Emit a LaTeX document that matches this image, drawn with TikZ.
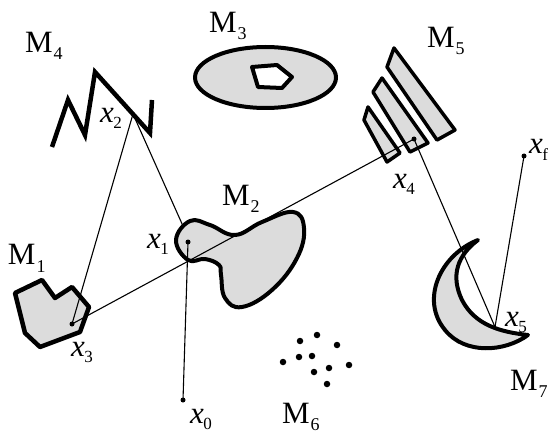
\documentclass[tikz,border=0pt]{standalone}
\usepackage{fontspec}
\setmainfont{Liberation Serif}
\definecolor{setgrey}{HTML}{DCDCDC}
\newcommand\Mlab[1]{\fontsize{31}{31}\selectfont M\kern1pt\raisebox{-7pt}{\fontsize{18}{18}\selectfont #1}}
\newcommand\Xlab[1]{\fontsize{31}{31}\selectfont\textit{x}\kern-0.5pt\raisebox{-6pt}{\fontsize{17}{17}\selectfont #1}}
\tikzset{
  setshape/.style={draw=black, line width=4pt, fill=setgrey, line join=round},
  zig/.style={draw=black, line width=4.5pt, line join=miter},
  conn/.style={draw=black, line width=1.1pt},
  pt/.style={circle, fill=black, inner sep=0pt, minimum size=5pt},
  cloud/.style={circle, fill=black, inner sep=0pt, minimum size=6.5pt},
  lab/.style={anchor=base west, inner sep=0pt, outer sep=0pt}
}
\begin{document}
\begin{tikzpicture}[x=1pt,y=-1pt]
\useasboundingbox (0,0) rectangle (552,433);
% ---- sets
% M3 ellipse with pentagon hole
\draw[setshape] (265.5,77.5) ellipse [x radius=70.5, y radius=30.5];
\draw[setshape, fill=white] (252,67) -- (277,65) -- (292,77) -- (282,88) -- (258,87) -- cycle;
% M4 zigzag
\draw[zig] (52,147) -- (68,100) -- (85,135) -- (95,72) -- (150,133) -- (152,100);
% M5 strips
\draw[setshape, line width=3.5pt] (394,48) -- (455,130) -- (437,140) -- (387,67) -- cycle;
\draw[setshape, line width=3.5pt] (382,78) -- (428,143) -- (410,152) -- (373,92) -- cycle;
\draw[setshape, line width=3.5pt] (368,107) -- (400,153) -- (387,162) -- (364,120) -- cycle;
% M1 polygon
\draw[setshape, line width=4.5pt] (15,293) -- (42,280) -- (55,298) -- (72,287) -- (89,307) -- (80,332) -- (40,347) -- (25,333) -- cycle;
% M2 blob
\draw[setshape] plot[smooth cycle, tension=0.7] coordinates {(176,240) (190,221) (210,225) (235,235) (262,222) (293,212) (304,228) (297,258) (272,290) (242,307) (225,298) (221,275) (219,265) (205,259) (188,260)};
% M7 crescent
\draw[setshape] (478,240) .. controls (440,255) and (420,300) .. (445,330)
  .. controls (465,355) and (505,352) .. (528,335)
  .. controls (500,332) and (475,325) .. (462,300)
  .. controls (450,275) and (458,255) .. (478,240) -- cycle;
% M6 cloud of points
\foreach \p/\q in {300/341,317/335,337/345,283/362,299/357,312/356,329/368,314/372,327/384,349/365}
  \node[cloud] at (\p,\q) {};
% ---- trajectory points
\node[pt] (x0) at (183,400) {};
\node[pt] (x1) at (188,242) {};
\coordinate (b1) at (183,226);
\coordinate (x2) at (133,114);
\node[pt] (x3) at (72,324) {};
\node[pt] (x4) at (414,139) {};
\coordinate (x5) at (495,327);
\node[pt] (xf) at (524,156) {};
% ---- connectors
\draw[conn] (x0.center) -- (x1.center);
\draw[conn] (b1) -- (x2);
\draw[conn] (x2) -- (x3.center);
\draw[conn] (x3.center) -- (x4.center);
\draw[conn] (x4.center) -- (x5);
\draw[conn] (x5) -- (xf.center);
% ---- labels
\node[lab] (m1) at (8,265) {\Mlab{1}};
\node[lab] (m2) at (222,205) {\Mlab{2}};
\node[lab] (m3) at (209,33) {\Mlab{3}};
\node[lab] (m4) at (25,53) {\Mlab{4}};
\node[lab] (m5) at (427,48) {\Mlab{5}};
\node[lab] (m6) at (282,423) {\Mlab{6}};
\node[lab] (m7) at (510,390) {\Mlab{7}};
\node[lab] (l0) at (190,423) {\Xlab{0}};
\node[lab] (l1) at (147,248) {\Xlab{1}};
\node[lab] (l2) at (100,123) {\Xlab{2}};
\node[lab] (l3) at (71,356) {\Xlab{3}};
\node[lab] (l4) at (393,189) {\Xlab{4}};
\node[lab] (l5) at (505,326) {\Xlab{5}};
\node[lab] (lf) at (529,154) {\Xlab{f}};
\end{tikzpicture}
\end{document}
